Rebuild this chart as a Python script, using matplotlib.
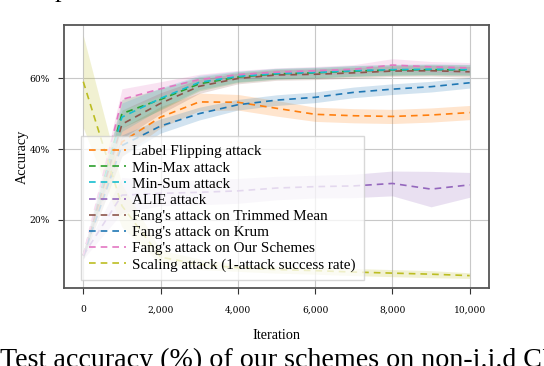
import matplotlib
matplotlib.use("Agg")
import matplotlib.pyplot as plt
import numpy as np

# iterations at which accuracy was recorded
iters = [0, 1000, 2000, 3000, 4000, 5000, 6000, 7000, 8000, 9000, 10000]

labels = ["Label Flipping attack", "Min-Max attack", "Min-Sum attack", "ALIE attack",
          "Fang's attack on Trimmed Mean", "Fang's attack on Krum",
          "Fang's attack on Our Schemes", "Scaling attack (1-attack success rate)"]

# mean accuracy (%) per attack
acc_labelflip = [10, 42, 49, 53.3, 53.2, 51.5, 49.8, 49.4, 49.2, 49.6, 50.3]
acc_minmax    = [10, 50, 54, 58.4, 60.3, 61.2, 61.5, 62.0, 62.3, 62.4, 62.3]
acc_minsum    = [10, 49, 54.3, 58.8, 60.5, 61.3, 61.6, 62.1, 62.4, 62.5, 62.4]
acc_alie      = [10, 27, 27.5, 27.8, 28.2, 29.0, 29.4, 29.6, 30.3, 28.7, 29.9]
acc_fang_tm   = [10, 47, 52.9, 57.7, 59.9, 60.9, 61.1, 61.5, 62.0, 62.1, 61.8]
acc_fang_krum = [10, 41, 46.5, 50.0, 52.5, 53.8, 54.6, 56.0, 56.9, 57.6, 58.7]
acc_fang_ours = [10, 54, 57.0, 59.6, 61.0, 61.7, 62.1, 62.5, 63.7, 63.2, 62.9]
acc_scaling   = [59, 24, 9.5, 7.5, 6.5, 6.0, 5.7, 5.3, 5.0, 4.7, 4.3]

# spread (half width of the shaded band)
sd_labelflip = [1, 4, 3, 2.5, 2.2, 2.2, 2.0, 2.0, 2.0, 2.0, 2.0]
sd_minmax    = [1, 4, 3, 2, 1.5, 1.5, 1.5, 1.5, 1.5, 1.5, 1.5]
sd_minsum    = [1, 4, 3, 2, 1.5, 1.5, 1.5, 1.5, 1.5, 1.5, 1.5]
sd_alie      = [1, 5, 3.5, 3.5, 3.5, 3.3, 3.2, 3.3, 3.5, 5.0, 3.5]
sd_fang_tm   = [1, 4, 3, 2, 1.5, 1.5, 1.5, 1.5, 1.5, 1.5, 1.5]
sd_fang_krum = [1, 3, 2, 1.8, 1.5, 1.5, 1.5, 1.5, 1.5, 1.5, 1.5]
sd_fang_ours = [1, 3, 2, 1.5, 1.2, 1.2, 1.2, 1.3, 1.8, 1.5, 1.5]
sd_scaling   = [13, 6, 2, 1.5, 1, 1, 1, 1, 1, 1, 0.8]

colors = ["#ff7f0e", "#2ca02c", "#17becf", "#9467bd", "#8c564b", "#1f77b4", "#e377c2", "#bcbd22"]

means = [acc_labelflip, acc_minmax, acc_minsum, acc_alie, acc_fang_tm, acc_fang_krum, acc_fang_ours, acc_scaling]
sds = [sd_labelflip, sd_minmax, sd_minsum, sd_alie, sd_fang_tm, sd_fang_krum, sd_fang_ours, sd_scaling]

plt.rcParams['font.family'] = ['Liberation Serif', 'DejaVu Serif']

fig = plt.figure(figsize=(5.44, 3.66), dpi=100)
ax = fig.add_axes([0.1176, 0.2131, 0.7813, 0.7186])

x = np.array(iters)
for lab, m, s, c in zip(labels, means, sds, colors):
    m = np.array(m)
    s = np.array(s)
    ax.fill_between(x, m - s, m + s, color=c, alpha=0.2, linewidth=0)
    ax.plot(x, m, color=c, linestyle=(0, (4, 3)), linewidth=1.2, label=lab)

ax.set_xlim(-500, 10500)
ax.set_ylim(0.8, 75)
ax.set_xticks([0, 2000, 4000, 6000, 8000, 10000])
ax.set_xticklabels(["0", "2,000", "4,000", "6,000", "8,000", "10,000"])
ax.set_yticks([20, 40, 60])
ax.set_yticklabels(["20%", "40%", "60%"])
ax.tick_params(axis='both', direction='out', length=4, width=0.8, color='#333333',
               labelsize=6.6)
ax.tick_params(axis='x', pad=8.5)
ax.tick_params(axis='y', pad=6)
for t in ax.get_xticklabels() + ax.get_yticklabels():
    t.set_family('DejaVu Serif')
ax.grid(True, color='#c8c8c8', linewidth=0.8)
ax.set_axisbelow(True)
for sp in ax.spines.values():
    sp.set_color('#555555')
    sp.set_linewidth(1.3)

ax.set_xlabel("Iteration", fontsize=10.3, labelpad=10.5)
ax.set_ylabel("Accuracy", fontsize=10.3, labelpad=0.5)

leg = ax.legend(loc='lower left', bbox_to_anchor=(0.04, 0.03), fontsize=10.9,
                frameon=True, fancybox=False, framealpha=0.75, edgecolor='#cccccc',
                handlelength=2.4, handletextpad=0.45, labelspacing=0.17,
                borderpad=0.55, borderaxespad=0)
leg.get_frame().set_linewidth(1.0)

fig.text(0.0, -0.004, "Test accuracy (%) of our schemes on non-i.i.d CIFAR-10.",
         fontsize=20.2, ha='left', va='baseline')
fig.text(55 / 544, 1.009, "p", fontsize=19, ha='left', va='baseline')

fig.savefig("out.png", dpi=100)
